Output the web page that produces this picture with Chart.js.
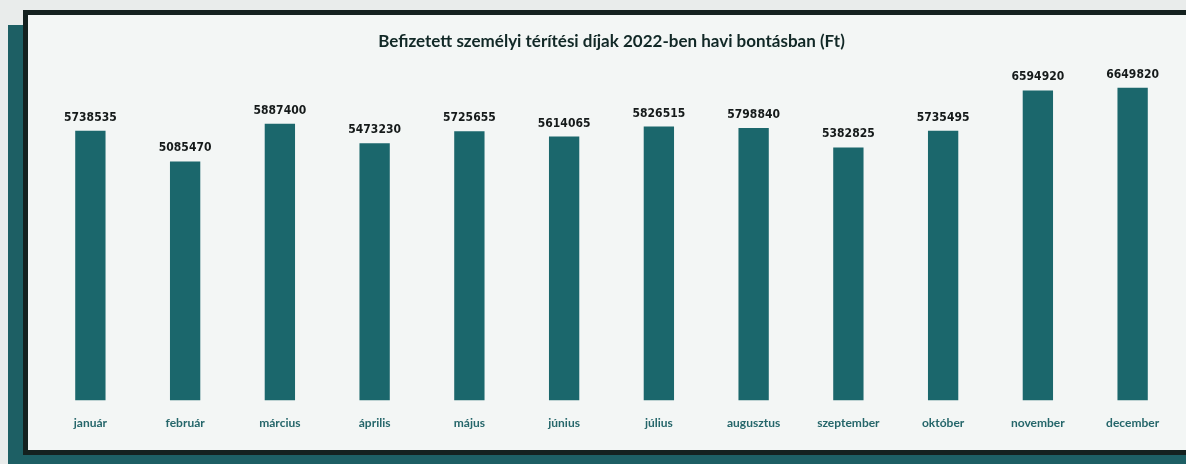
<!DOCTYPE html>
<html lang="hu">
<head>
<meta charset="utf-8">
<title>Befizetett személyi térítési díjak 2022</title>
<script src="https://cdn.jsdelivr.net/npm/chart.js@4.4.1/dist/chart.umd.min.js"></script>
<style>
    html, body {
        margin: 0;
        padding: 0;
        width: 1186px;
        height: 464px;
        overflow: hidden;
        background: #e9eceb;
    }
    .shadow {
        position: absolute;
        left: 8px;
        top: 25px;
        width: 1200px;
        height: 460px;
        background: #1d5f64;
    }
    .panel {
        position: absolute;
        left: 23px;
        top: 10px;
        width: 1200px;
        height: 435px;
        background: #f3f6f5;
        border: 5px solid #14211f;
        border-right: none;
    }
    .chart-box {
        position: absolute;
        left: 0;
        top: 0;
        width: 1186px;
        height: 464px;
    }
</style>
</head>
<body>
<div class="shadow"></div>
<div class="panel"></div>
<div class="chart-box">
    <canvas id="feesChart"></canvas>
</div>
<script>
const months = ['január', 'február', 'március', 'április', 'május', 'június',
    'július', 'augusztus', 'szeptember', 'október', 'november', 'december'];
const fees = [5738535, 5085470, 5887400, 5473230, 5725655, 5614065,
    5826515, 5798840, 5382825, 5735495, 6594920, 6649820];
const yMax = 7000000;

// writes each month's amount above its bar
const valueLabels = {
    id: 'valueLabels',
    afterDatasetsDraw(chart) {
        const ctx = chart.ctx;
        const meta = chart.getDatasetMeta(0);
        ctx.save();
        ctx.font = 'bold 12px "DejaVu Sans Condensed", "DejaVu Sans", sans-serif';
        ctx.fillStyle = '#151a1a';
        ctx.textAlign = 'center';
        ctx.textBaseline = 'alphabetic';
        meta.data.forEach(function(bar, i) {
            ctx.fillText(String(fees[i]), bar.x, bar.y - 10);
        });
        ctx.restore();
    }
};

const ctx = document.getElementById('feesChart').getContext('2d');
new Chart(ctx, {
    type: 'bar',
    data: {
        labels: months,
        datasets: [{
            data: fees,
            backgroundColor: '#1b676c',
            barPercentage: 0.32,
            categoryPercentage: 1
        }]
    },
    options: {
        responsive: true,
        maintainAspectRatio: false,
        animation: false,
        layout: {
            padding: { left: 43, right: 6, top: 19, bottom: 27 }
        },
        plugins: {
            legend: { display: false },
            tooltip: { enabled: false },
            title: {
                display: true,
                text: 'Befizetett személyi térítési díjak 2022-ben havi bontásban (Ft)',
                color: '#112826',
                font: { family: 'Lato', size: 17, weight: 'bold' },
                padding: { top: 12, bottom: 20 }
            }
        },
        scales: {
            x: {
                grid: { display: false },
                border: { display: false },
                ticks: {
                    color: '#25666a',
                    font: { family: 'Lato', size: 12, weight: 'bold' },
                    padding: 7,
                    maxRotation: 0
                }
            },
            y: {
                display: false,
                min: 0,
                max: yMax
            }
        }
    },
    plugins: [valueLabels]
});
</script>
</body>
</html>
